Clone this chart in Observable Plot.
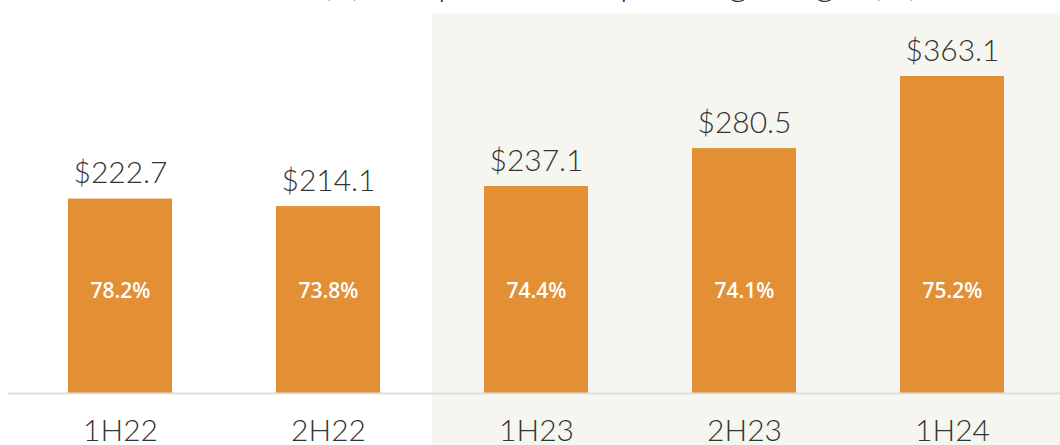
<!DOCTYPE html>
<html>
<head>
<meta charset="utf-8">
<script src="https://cdn.jsdelivr.net/npm/d3@7"></script>
<script src="https://cdn.jsdelivr.net/npm/@observablehq/plot@0.6"></script>
<style>
  html, body { margin: 0; padding: 0; background: #ffffff; }
  #title { position: relative; width: 1060px; height: 8px; overflow: hidden; }
  #title .line { position: absolute; top: -36px; left: 0; white-space: nowrap;
    font-family: Lato, "Open Sans", sans-serif; font-weight: 300; font-size: 36px; line-height: 36px; color: #333; }
  #chart svg { display: block; }
</style>
</head>
<body>
<div id="title"><div class="line"><span id="tpre">Revenue </span><span>(1) and pro forma operating margin (%)</span></div></div>
<div id="chart"></div>
<script>
// ---- data ----
const periods = ["1H22", "2H22", "1H23", "2H23", "1H24"];
const values = [222.7, 214.1, 237.1, 280.5, 363.1];
const margins = [78.2, 73.8, 74.4, 74.1, 75.2];
const valueLabels = ["$222.7", "$214.1", "$237.1", "$280.5", "$363.1"];
const marginLabels = ["78.2%", "73.8%", "74.4%", "74.1%", "75.2%"];
const shadedFrom = "1H23";

const data = periods.map((p, i) => ({period: p, value: values[i], margin: margins[i]}));

// align the clipped title
const pre = document.getElementById("tpre");
document.querySelector("#title .line").style.left = (322 - pre.getBoundingClientRect().width) + "px";

function shade(index, scales, values, dims) {
  const x = scales.x;
  const bw = typeof x.bandwidth === "function" ? x.bandwidth() : (x(periods[1]) - x(periods[0])) / 2;
  const i = periods.indexOf(shadedFrom);
  const prevEnd = x(periods[i - 1]) + bw;
  const x0 = (prevEnd + x(shadedFrom)) / 2;
  const g = d3.create("svg:g");
  g.append("rect")
    .attr("x", x0)
    .attr("y", 5)
    .attr("width", dims.width - x0)
    .attr("height", dims.height - 5)
    .attr("fill", "#f6f6f1");
  return g.node();
}

const chart = Plot.plot({
  width: 1060,
  height: 437,
  marginLeft: 16,
  marginRight: 4,
  marginTop: 0,
  marginBottom: 52,
  style: {background: "transparent", fontFamily: "Lato, 'Open Sans', sans-serif"},
  x: {domain: periods, paddingInner: 0.5, paddingOuter: 0.25, label: null},
  y: {domain: [0, 441], axis: null},
  marks: [
    shade,
    Plot.barY(data, {x: "period", y: "value", fill: "#e28f35"}),
    Plot.ruleY([0], {stroke: "#dcdfe2", strokeWidth: 2, insetLeft: -8, insetRight: -4}),
    Plot.text(data, {x: "period", y: "value", text: valueLabels, dy: -16, lineAnchor: "bottom",
      fontSize: 30, fontWeight: 300, fill: "#333333"}),
    Plot.text(data, {x: "period", y: () => 117, text: marginLabels, lineAnchor: "middle",
      fontSize: 21, fontWeight: 600, fill: "#ffffff", fontFamily: "'Open Sans', sans-serif"}),
    Plot.axisX({tickSize: 0, tickPadding: 26, fontSize: 30, fontWeight: 300, fill: "#333333", label: null})
  ]
});
document.getElementById("chart").appendChild(chart);
</script>
</body>
</html>
